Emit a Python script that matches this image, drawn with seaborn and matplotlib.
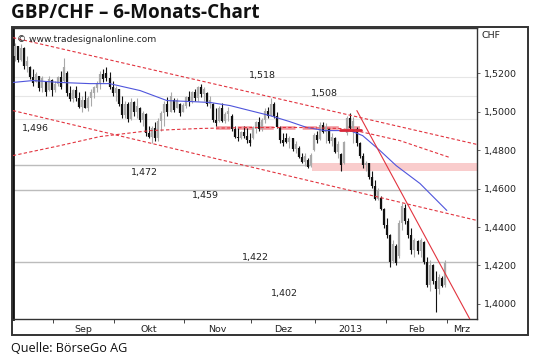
import matplotlib
matplotlib.use("Agg")
import numpy as np
import pandas as pd
import seaborn as sns
import matplotlib.pyplot as plt
from matplotlib.patches import Rectangle

# daily GBP/CHF bars, one per weekday starting 15 Aug 2012
first_day = "2012-08-15"
opens = [
    1.5290, 1.5340, 1.5270, 1.5330, 1.5235, 1.5230, 1.5180, 1.5155, 1.5185, 1.5120,
    1.5160, 1.5110, 1.5165, 1.5110, 1.5145, 1.5180, 1.5160, 1.5200, 1.5095, 1.5065,
    1.5110, 1.5070, 1.5025, 1.5060, 1.5020, 1.5070, 1.5095, 1.5120, 1.5150, 1.5195,
    1.5200, 1.5175, 1.5130, 1.5095, 1.5115, 1.5040, 1.4980, 1.5040, 1.4960, 1.5050,
    1.5000, 1.5020, 1.4955, 1.4985, 1.4890, 1.4870, 1.4915, 1.4860, 1.4950, 1.4990,
    1.5040, 1.5000, 1.5060, 1.5020, 1.5040, 1.5000, 1.5030, 1.5075, 1.5050, 1.5100,
    1.5070, 1.5125, 1.5090, 1.5095, 1.5040, 1.5040, 1.4955, 1.4950, 1.5020, 1.4950,
    1.4985, 1.4975, 1.4910, 1.4870, 1.4862, 1.4895, 1.4875, 1.4850, 1.4865, 1.4910,
    1.4945, 1.4910, 1.4955, 1.5005, 1.4980, 1.5040, 1.4975, 1.4920, 1.4850, 1.4860,
    1.4840, 1.4860, 1.4805, 1.4810, 1.4765, 1.4740, 1.4750, 1.4720, 1.4800, 1.4880,
    1.4855, 1.4930, 1.4895, 1.4910, 1.4845, 1.4865, 1.4790, 1.4780, 1.4730, 1.4890,
    1.4965, 1.4915, 1.4910, 1.4835, 1.4770, 1.4720, 1.4730, 1.4660, 1.4615, 1.4545,
    1.4550, 1.4495, 1.4410, 1.4360, 1.4225, 1.4300, 1.4250, 1.4420, 1.4500, 1.4430,
    1.4360, 1.4280, 1.4325, 1.4275, 1.4320, 1.4220, 1.4100, 1.4200, 1.4120, 1.4080,
    1.4135, 1.4100,
]
highs = [
    1.5358, 1.5343, 1.5350, 1.5333, 1.5291, 1.5239, 1.5223, 1.5203, 1.5187, 1.5187,
    1.5161, 1.5187, 1.5171, 1.5161, 1.5187, 1.5213, 1.5280, 1.5213, 1.5135, 1.5119,
    1.5135, 1.5099, 1.5083, 1.5109, 1.5083, 1.5119, 1.5135, 1.5161, 1.5213, 1.5223,
    1.5233, 1.5203, 1.5161, 1.5135, 1.5119, 1.5083, 1.5057, 1.5047, 1.5068, 1.5057,
    1.5068, 1.5025, 1.5005, 1.4990, 1.4927, 1.4927, 1.4943, 1.4964, 1.5005, 1.5057,
    1.5073, 1.5099, 1.5068, 1.5068, 1.5045, 1.5042, 1.5083, 1.5109, 1.5109, 1.5119,
    1.5135, 1.5145, 1.5125, 1.5100, 1.5083, 1.5045, 1.5016, 1.5031, 1.5042, 1.4995,
    1.5021, 1.4985, 1.4927, 1.4912, 1.4901, 1.4927, 1.4912, 1.4891, 1.4927, 1.4953,
    1.4969, 1.4964, 1.5016, 1.5021, 1.5068, 1.5050, 1.4995, 1.4927, 1.4891, 1.4886,
    1.4875, 1.4865, 1.4849, 1.4820, 1.4787, 1.4782, 1.4756, 1.4787, 1.4891, 1.4901,
    1.4943, 1.4943, 1.4938, 1.4915, 1.4886, 1.4870, 1.4849, 1.4785, 1.4849, 1.4979,
    1.4990, 1.4969, 1.4920, 1.4840, 1.4782, 1.4745, 1.4735, 1.4693, 1.4642, 1.4605,
    1.4560, 1.4501, 1.4449, 1.4366, 1.4330, 1.4314, 1.4434, 1.4527, 1.4522, 1.4449,
    1.4397, 1.4345, 1.4330, 1.4345, 1.4325, 1.4242, 1.4226, 1.4210, 1.4174, 1.4158,
    1.4145, 1.4226,
]
lows = [
    1.5265, 1.5255, 1.5265, 1.5223, 1.5203, 1.5171, 1.5135, 1.5151, 1.5109, 1.5099,
    1.5083, 1.5105, 1.5083, 1.5099, 1.5135, 1.5119, 1.5151, 1.5083, 1.5057, 1.5047,
    1.5057, 1.5016, 1.4995, 1.5016, 1.5005, 1.5031, 1.5068, 1.5099, 1.5119, 1.5151,
    1.5161, 1.5119, 1.5083, 1.5057, 1.5031, 1.4964, 1.4964, 1.4943, 1.4955, 1.4979,
    1.4964, 1.4943, 1.4927, 1.4875, 1.4860, 1.4839, 1.4849, 1.4849, 1.4901, 1.4927,
    1.4979, 1.4995, 1.4995, 1.5016, 1.4979, 1.4995, 1.5016, 1.5031, 1.5045, 1.5057,
    1.5057, 1.5073, 1.5057, 1.5031, 1.5016, 1.4943, 1.4927, 1.4945, 1.4943, 1.4938,
    1.4953, 1.4901, 1.4865, 1.4849, 1.4855, 1.4865, 1.4839, 1.4823, 1.4855, 1.4891,
    1.4901, 1.4901, 1.4938, 1.4964, 1.4975, 1.4964, 1.4912, 1.4839, 1.4823, 1.4834,
    1.4813, 1.4797, 1.4787, 1.4756, 1.4730, 1.4719, 1.4704, 1.4710, 1.4795, 1.4839,
    1.4850, 1.4886, 1.4839, 1.4834, 1.4823, 1.4782, 1.4761, 1.4693, 1.4725, 1.4880,
    1.4901, 1.4834, 1.4823, 1.4761, 1.4709, 1.4693, 1.4652, 1.4605, 1.4538, 1.4538,
    1.4486, 1.4397, 1.4345, 1.4190, 1.4215, 1.4200, 1.4240, 1.4382, 1.4418, 1.4345,
    1.4262, 1.4242, 1.4262, 1.4242, 1.4210, 1.4086, 1.4070, 1.4106, 1.3956, 1.4054,
    1.4086, 1.4090,
]
closes = [
    1.5340, 1.5270, 1.5330, 1.5235, 1.5260, 1.5180, 1.5150, 1.5195, 1.5120, 1.5175,
    1.5100, 1.5170, 1.5110, 1.5145, 1.5180, 1.5130, 1.5230, 1.5095, 1.5065, 1.5110,
    1.5070, 1.5025, 1.5060, 1.5020, 1.5070, 1.5100, 1.5125, 1.5150, 1.5195, 1.5170,
    1.5175, 1.5130, 1.5095, 1.5120, 1.5040, 1.4980, 1.5040, 1.4960, 1.5050, 1.5000,
    1.5030, 1.4955, 1.4990, 1.4890, 1.4870, 1.4915, 1.4860, 1.4950, 1.4990, 1.5040,
    1.5000, 1.5080, 1.5010, 1.5060, 1.4990, 1.5035, 1.5075, 1.5050, 1.5100, 1.5070,
    1.5125, 1.5090, 1.5115, 1.5040, 1.5060, 1.4955, 1.4940, 1.5020, 1.4950, 1.4985,
    1.5005, 1.4910, 1.4870, 1.4860, 1.4895, 1.4875, 1.4850, 1.4835, 1.4915, 1.4945,
    1.4910, 1.4955, 1.5005, 1.4975, 1.5040, 1.4975, 1.4920, 1.4850, 1.4835, 1.4840,
    1.4865, 1.4805, 1.4830, 1.4765, 1.4740, 1.4770, 1.4712, 1.4775, 1.4880, 1.4850,
    1.4930, 1.4895, 1.4920, 1.4845, 1.4870, 1.4790, 1.4830, 1.4720, 1.4840, 1.4965,
    1.4915, 1.4950, 1.4835, 1.4770, 1.4720, 1.4735, 1.4660, 1.4615, 1.4545, 1.4590,
    1.4495, 1.4410, 1.4360, 1.4220, 1.4310, 1.4215, 1.4420, 1.4510, 1.4430, 1.4360,
    1.4280, 1.4330, 1.4275, 1.4330, 1.4220, 1.4100, 1.4200, 1.4120, 1.4080, 1.4140,
    1.4095, 1.4215,
]

# moving average (blue), sampled at bar positions
ma_x = [-0.7, 5.9, 14.8, 24.6, 31, 41, 49.8, 57.4, 64, 70.5, 77, 83.6, 90, 95.7,
        101.6, 109.8, 114, 119.7, 125, 132.8, 141.6]
ma_y = [1.5151, 1.5161, 1.5151, 1.5145, 1.5145, 1.5109, 1.5057, 1.5052, 1.5047,
        1.5031, 1.5005, 1.4979, 1.4948, 1.4917, 1.4901, 1.4901, 1.4875, 1.4797,
        1.4719, 1.4626, 1.4486]

# drawn trend lines (red)
arc_x = [-0.7, 14.8, 27.9, 44.3, 60.7, 77, 93.4, 106.6, 113.1, 126.2, 142.6]
arc_y = [1.4771, 1.4823, 1.4870, 1.4901, 1.4912, 1.4917, 1.4917, 1.4912, 1.4896,
         1.4849, 1.4761]
channel_x = [-0.7, 151.5]
upper_y = [1.5384, 1.4829]
lower_y = [1.5005, 1.4434]
steep_x = [112.1, 149.2]
steep_y = [1.5005, 1.3920]
band_x = [66, 113]
band_y = [1.4912, 1.4912]
band_dark_x = [106.5, 113.5]
band_dark_y = [1.4906, 1.4906]
zone_low, zone_high = 1.4693, 1.4730

level_names = ["1,518", "1,508", "1,496", "1,472", "1,459", "1,422", "1,402"]
level_label_x = [81, 101.6, 6.6, 42.6, 62.3, 78.7, 88.5]
level_label_y = [1.5187, 1.5094, 1.4912, 1.4683, 1.4564, 1.4242, 1.4054]
strong_levels = [1.472, 1.459, 1.422]
faint_levels = [1.518, 1.508, 1.496]

month_names = ["Sep", "Okt", "Nov", "Dez", "2013", "Feb", "Mrz"]
price_ticks = [1.40, 1.42, 1.44, 1.46, 1.48, 1.50, 1.52]

sns.set_theme(style="white")
plt.rcParams["font.family"] = ["DejaVu Sans"]

W, H = 540, 362
X_MIN, X_MAX = -0.66, 151.5
fig = plt.figure(figsize=(W / 100, H / 100), dpi=100)
fig.patch.set_facecolor("white")
ax = fig.add_axes([13 / W, 1 - 319 / H, 464 / W, 291 / H])
ax.set_facecolor("white")

df = pd.DataFrame({"open": opens, "high": highs, "low": lows, "close": closes})
df["x"] = np.arange(len(df))
df["up"] = df["close"] >= df["open"]

# horizontal levels and zone
for lv in strong_levels:
    ax.axhline(lv, color="#bcbcbc", lw=1.0, zorder=1)
for lv in faint_levels:
    ax.axhline(lv, color="#e6e6e6", lw=0.8, zorder=1)
ax.fill_between([97.5, X_MAX], zone_low, zone_high, color="#f9cccc", lw=0, zorder=1)

# candles
colors = np.where(df["up"], "#a9a9a9", "#111111")
ax.vlines(df["x"], df["low"], df["high"], colors=colors, lw=0.8, zorder=3)
ax.vlines(df["x"], df[["open", "close"]].min(axis=1), df[["open", "close"]].max(axis=1),
          colors=colors, lw=1.6, zorder=3)

# moving average and trend lines
sns.lineplot(x=ma_x, y=ma_y, ax=ax, color="#4f55dc", lw=0.8, zorder=4)
red = "#e2343f"
sns.lineplot(x=band_x, y=band_y, ax=ax, color="#f29aa0", lw=2.6, zorder=2,
             linestyle=(0, (4, 2)))
sns.lineplot(x=band_dark_x, y=band_dark_y, ax=ax, color="#d8283a", lw=2.0, zorder=4)
sns.lineplot(x=arc_x, y=arc_y, ax=ax, color=red, lw=0.8, zorder=4, linestyle=(0, (3, 2)))
sns.lineplot(x=channel_x, y=upper_y, ax=ax, color=red, lw=0.8, zorder=4, linestyle=(0, (3, 2)))
sns.lineplot(x=channel_x, y=lower_y, ax=ax, color=red, lw=0.8, zorder=4, linestyle=(0, (3, 2)))
sns.lineplot(x=steep_x, y=steep_y, ax=ax, color=red, lw=0.8, zorder=4)

for name, lx, ly in zip(level_names, level_label_x, level_label_y):
    ax.text(lx, ly, name, fontsize=6.8, color="#222222", ha="center", va="center", zorder=5)

ax.text(0.5, 1.5375, "\u00a9 www.tradesignalonline.com", fontsize=6.6, color="#222222",
        ha="left", va="center", zorder=5)

ax.set_xlim(X_MIN, X_MAX)
ax.set_ylim(1.3922, 1.5434)

# months: boundaries as minor ticks, names centred between them
cal = pd.Series(pd.bdate_range(first_day, periods=int(X_MAX) + 1))
new_month = cal.dt.month != cal.dt.month.shift()
bounds = [i - 0.5 for i in cal.index[new_month] if i > 0]
centres = [(a + b) / 2 for a, b in zip(bounds[:-1], bounds[1:])] + [(bounds[-1] + X_MAX) / 2]
ax.set_xticks(bounds, minor=True)
ax.set_xticks(centres)
ax.set_xticklabels(month_names[:len(centres)])
ax.tick_params(axis="x", which="minor", length=3, width=0.7, color="#444444", direction="out", bottom=True)
ax.tick_params(axis="x", which="major", length=0, pad=4.5, labelsize=6.8, labelcolor="#222222")

ax.yaxis.tick_right()
ax.set_yticks(price_ticks)
ax.set_yticklabels([f"{t:.4f}".replace(".", ",") for t in price_ticks])
ax.tick_params(axis="y", length=2.5, width=0.7, color="#666666", direction="out", pad=2.5,
               labelsize=6.8, labelcolor="#222222", right=True)
ax.set_xlabel("")
ax.set_ylabel("")
if ax.get_legend():
    ax.get_legend().remove()

for side in ["left", "right", "bottom", "top"]:
    ax.spines[side].set_visible(True)
    ax.spines[side].set_color("#333333")
ax.spines["left"].set_linewidth(2.0)
ax.spines["left"].set_color("#111111")
ax.spines["right"].set_linewidth(1.0)
ax.spines["bottom"].set_linewidth(1.0)
ax.spines["top"].set_linewidth(1.0)

# outer frame
fig.patches.append(Rectangle((12 / W, 1 - 335 / H), 516 / W, 308 / H, transform=fig.transFigure,
                             fill=False, edgecolor="#333333", lw=1.4))
fig.text(482 / W, 1 - 35 / H, "CHF", fontsize=6.8, color="#222222", ha="left", va="center")

fig.text(11 / W, 1 - 13 / H, "GBP/CHF \u2013 6-Monats-Chart", fontsize=13.6, fontweight="bold",
         family=["Open Sans"], color="#111111", ha="left", va="center")
fig.text(11 / W, 1 - 349 / H, "Quelle: B\u00f6rseGo AG", fontsize=9.1, family=["Open Sans"],
         color="#111111", ha="left", va="center")

fig.savefig("out.png", dpi=100)
